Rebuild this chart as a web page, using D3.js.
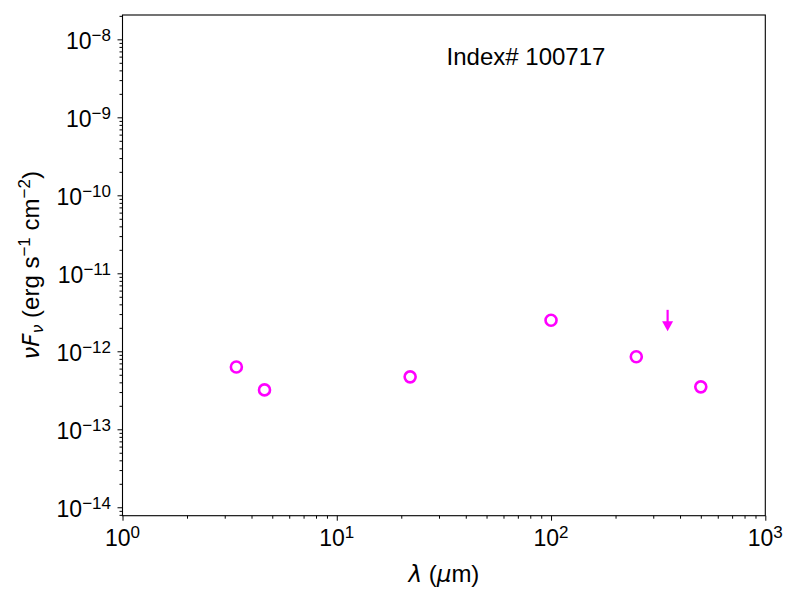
<!DOCTYPE html>
<html>
<head>
<meta charset="utf-8">
<script src="https://cdn.jsdelivr.net/npm/d3@7"></script>
<style>
  body { margin: 0; background: #fff; }
  svg { font-family: "Liberation Sans", Arial, Helvetica, sans-serif; }
</style>
</head>
<body>
<svg id="chart" width="800" height="600"></svg>
<script>
// ---- data ----
const wavelengths = [3.4, 4.6, 22, 100, 250, 500];
const fluxes = [6.3e-13, 3.2e-13, 4.7e-13, 2.5e-12, 8.5e-13, 3.5e-13];
const upperLimitWavelengths = [350];
const upperLimitFluxes = [3.4e-12];
const xTickExponents = [0, 1, 2, 3];
const yTickExponents = [-14, -13, -12, -11, -10, -9, -8];
const titleText = "Index# 100717";

(function () {
// ---- layout ----
const W = 800, H = 600;
const pL = 122.5, pR = 765.3, pT = 15, pB = 515.7;
const color = "#ff00ff";

const svg = d3.select("#chart");
svg.append("rect").attr("width", W).attr("height", H).attr("fill", "#fff");

const x = d3.scaleLog().domain([1, 1000]).range([pL, pR]);
const y = d3.scaleLog().domain([Math.pow(10, -14.108), Math.pow(10, -7.688)]).range([pB, pT]);

function minorTicks(lo, hi) {
  const out = [];
  for (let e = Math.floor(Math.log10(lo)); e <= Math.ceil(Math.log10(hi)); e++) {
    for (let m = 2; m <= 9; m++) {
      const v = m * Math.pow(10, e);
      if (v >= lo && v <= hi) out.push(v);
    }
  }
  return out;
}

const axisG = svg.append("g");

// X axis
const xMajor = xTickExponents.map(e => Math.pow(10, e));
const xMinor = minorTicks(1, 1000);
const gx = axisG.append("g").attr("transform", `translate(0,${pB})`);
gx.call(d3.axisBottom(x).tickValues(xMajor).tickSize(5).tickFormat(""));
gx.append("g").call(d3.axisBottom(x).tickValues(xMinor).tickSize(3).tickFormat(""));
gx.selectAll(".domain").remove();
gx.selectAll("line").attr("stroke", "#000").attr("stroke-width", 1);

xTickExponents.forEach(e => {
  const t = svg.append("text")
    .attr("x", x(Math.pow(10, e)))
    .attr("y", 546)
    .attr("text-anchor", "middle")
    .attr("font-size", 23)
    .attr("fill", "#000");
  t.append("tspan").text("10");
  t.append("tspan").attr("dy", -8).attr("font-size", 17).text(String(e).replace("-", "\u2212"));
});

// Y axis
const yMajor = yTickExponents.map(e => Math.pow(10, e));
const yMinor = minorTicks(y.domain()[0], y.domain()[1]);
const gy = axisG.append("g").attr("transform", `translate(${pL},0)`);
gy.call(d3.axisLeft(y).tickValues(yMajor).tickSize(5).tickFormat(""));
gy.append("g").call(d3.axisLeft(y).tickValues(yMinor).tickSize(3).tickFormat(""));
gy.selectAll(".domain").remove();
gy.selectAll("line").attr("stroke", "#000").attr("stroke-width", 1);

yTickExponents.forEach(e => {
  const t = svg.append("text")
    .attr("x", 111)
    .attr("y", y(Math.pow(10, e)) + 9.7)
    .attr("text-anchor", "end")
    .attr("font-size", 23)
    .attr("fill", "#000");
  t.append("tspan").text("10");
  t.append("tspan").attr("dy", -8).attr("font-size", 17).text(String(e).replace("-", "\u2212"));
});

// frame
svg.append("rect")
  .attr("x", pL).attr("y", pT)
  .attr("width", pR - pL).attr("height", pB - pT)
  .attr("fill", "none").attr("stroke", "#000").attr("stroke-width", 1.1);

// axis labels
const xl = svg.append("text")
  .attr("x", (pL + pR) / 2).attr("y", 582)
  .attr("text-anchor", "middle").attr("font-size", 24).attr("fill", "#000");
xl.append("tspan").attr("font-style", "italic").attr("font-family", "DejaVu Sans").attr("font-size", 23).text("λ");
xl.append("tspan").text(" (");
xl.append("tspan").attr("font-style", "italic").attr("font-family", "DejaVu Sans").attr("font-size", 23).text("μ");
xl.append("tspan").text("m)");

const yl = svg.append("text")
  .attr("transform", `translate(39,${(pT + pB) / 2}) rotate(-90)`)
  .attr("text-anchor", "middle").attr("font-size", 24).attr("fill", "#000");
yl.append("tspan").attr("font-style", "italic").attr("font-family", "DejaVu Sans").attr("font-size", 23).text("νF");
yl.append("tspan").attr("font-style", "italic").attr("font-family", "DejaVu Sans").attr("font-size", 16).attr("dy", 4).text("ν");
yl.append("tspan").attr("dy", -4).text(" (erg s");
yl.append("tspan").attr("dy", -9).attr("font-size", 17).text("\u22121");
yl.append("tspan").attr("dy", 9).text(" cm");
yl.append("tspan").attr("dy", -9).attr("font-size", 17).text("\u22122");
yl.append("tspan").attr("dy", 9).text(")");

// title
svg.append("text")
  .attr("x", 526).attr("y", 65)
  .attr("text-anchor", "middle").attr("font-size", 24).attr("fill", "#000")
  .text(titleText);

// data points
const pts = wavelengths.map((w, i) => ({ w, f: fluxes[i] }));
svg.append("g").selectAll("circle").data(pts).join("circle")
  .attr("cx", d => x(d.w)).attr("cy", d => y(d.f))
  .attr("r", 5.5)
  .attr("fill", "none").attr("stroke", color).attr("stroke-width", 2.6);

// upper limits (arrows)
const ul = upperLimitWavelengths.map((w, i) => ({ w, f: upperLimitFluxes[i] }));
const ulg = svg.append("g").selectAll("g").data(ul).join("g");
ulg.append("line")
  .attr("x1", d => x(d.w)).attr("x2", d => x(d.w))
  .attr("y1", d => y(d.f)).attr("y2", d => y(d.f) + 13)
  .attr("stroke", color).attr("stroke-width", 2.2);
ulg.append("path")
  .attr("d", d => {
    const cx = x(d.w), cy = y(d.f);
    return `M${cx - 5.5},${cy + 11.5} L${cx + 5.5},${cy + 11.5} L${cx},${cy + 21.5} Z`;
  })
  .attr("fill", color);
})();
</script>
</body>
</html>
